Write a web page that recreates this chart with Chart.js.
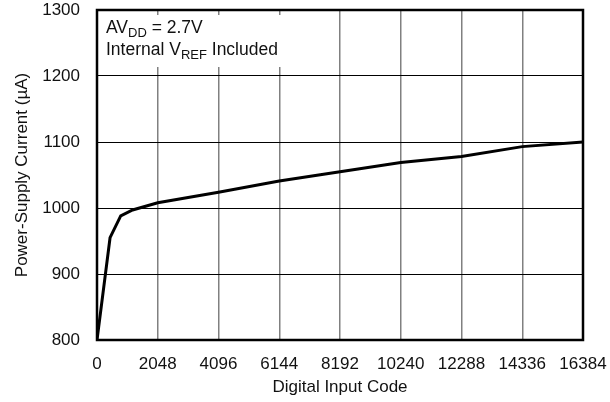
<!DOCTYPE html>
<html>
<head>
<meta charset="utf-8">
<script src="https://cdn.jsdelivr.net/npm/chart.js@4"></script>
<style>
  html, body { margin: 0; padding: 0; background: #fff; }
  #wrap { width: 610px; height: 402px; }
</style>
</head>
<body>
<div id="wrap"><canvas id="supplyChart" width="610" height="402"></canvas></div>
<script>
'use strict';

var codes = [0, 440, 800, 1200, 2048, 4096, 6144, 8192, 10240, 12288, 14336, 16384];
var currents = [800, 955, 988, 997, 1008, 1024, 1041, 1055, 1069, 1078, 1093, 1100];
var xTicks = [0, 2048, 4096, 6144, 8192, 10240, 12288, 14336, 16384];
var yTicks = [800, 900, 1000, 1100, 1200, 1300];

var fontFamily = '"Liberation Sans", Arial, Helvetica, sans-serif';
var fontSize = 17;

// white note box in the upper left corner, with subscripts
var noteBox = {
    id: 'noteBox',
    beforeDatasetsDraw: function (chart) {
        var ctx = chart.ctx;
        var a = chart.chartArea;
        ctx.save();
        ctx.fillStyle = '#fff';
        ctx.fillRect(a.left, a.top + 5, 212, 52);
        ctx.fillStyle = '#111';
        ctx.textBaseline = 'alphabetic';
        var x = a.left + 9;
        var y1 = a.top + 23;
        var y2 = a.top + 45;
        ctx.font = '17.5px ' + fontFamily;
        ctx.fillText('AV', x, y1);
        var w = ctx.measureText('AV').width;
        ctx.font = '13px ' + fontFamily;
        ctx.fillText('DD', x + w, y1 + 4);
        var w2 = ctx.measureText('DD').width;
        ctx.font = '17.5px ' + fontFamily;
        ctx.fillText(' = 2.7V', x + w + w2, y1);

        ctx.fillText('Internal V', x, y2);
        w = ctx.measureText('Internal V').width;
        ctx.font = '13px ' + fontFamily;
        ctx.fillText('REF', x + w, y2 + 4);
        w2 = ctx.measureText('REF').width;
        ctx.font = '17.5px ' + fontFamily;
        ctx.fillText(' Included', x + w + w2, y2);
        ctx.restore();
    },
    afterDraw: function (chart) {
        var ctx = chart.ctx;
        var a = chart.chartArea;
        ctx.save();
        ctx.strokeStyle = '#000';
        ctx.lineWidth = 2.5;
        ctx.strokeRect(a.left, a.top, a.right - a.left, a.bottom - a.top);
        ctx.restore();
    }
};

function noPad(axis) {
    axis.paddingTop = 0;
    axis.paddingBottom = 0;
    axis.paddingLeft = 0;
    axis.paddingRight = 0;
}

var SUPPLYCHART = document.getElementById('supplyChart');

var supplyChart = new Chart(SUPPLYCHART, {
    type: 'line',
    data: {
        labels: codes,
        datasets: [{
            data: codes.map(function (c, i) { return { x: c, y: currents[i] }; }),
            borderColor: '#000',
            borderWidth: 3,
            pointRadius: 0,
            tension: 0,
            fill: false
        }]
    },
    options: {
        responsive: false,
        animation: false,
        layout: { padding: { top: 10, right: 27, left: 8, bottom: 0 } },
        plugins: {
            legend: { display: false },
            tooltip: { enabled: false }
        },
        scales: {
            x: {
                type: 'linear',
                min: 0,
                max: 16384,
                afterBuildTicks: function (axis) {
                    axis.ticks = xTicks.map(function (v) { return { value: v }; });
                },
                afterFit: function (axis) { axis.height = 62; noPad(axis); },
                ticks: {
                    color: '#111',
                    font: { family: fontFamily, size: fontSize },
                    padding: 14,
                    maxRotation: 0,
                    autoSkip: false,
                    callback: function (v) { return String(v); }
                },
                grid: { color: '#808080', lineWidth: 1.5, drawTicks: false },
                border: { display: false },
                title: {
                    display: true,
                    text: 'Digital Input Code',
                    color: '#111',
                    font: { family: fontFamily, size: fontSize },
                    padding: { top: 2 }
                }
            },
            y: {
                min: 800,
                max: 1300,
                afterBuildTicks: function (axis) {
                    axis.ticks = yTicks.map(function (v) { return { value: v }; });
                },
                afterFit: function (axis) { axis.width = 89; noPad(axis); },
                ticks: {
                    color: '#111',
                    font: { family: fontFamily, size: fontSize },
                    padding: 17,
                    callback: function (v) { return String(v); }
                },
                grid: { color: '#000', lineWidth: 1, drawTicks: false },
                border: { display: false },
                title: {
                    display: true,
                    text: 'Power-Supply Current (\u00b5A)',
                    color: '#111',
                    font: { family: fontFamily, size: fontSize },
                    padding: { bottom: 0 }
                }
            }
        }
    },
    plugins: [noteBox]
});
</script>
</body>
</html>
